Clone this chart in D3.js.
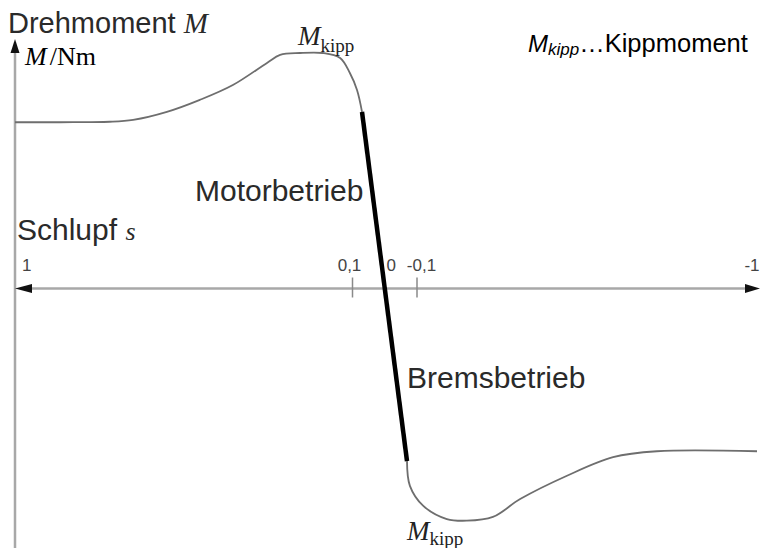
<!DOCTYPE html>
<html>
<head>
<meta charset="utf-8">
<script src="https://cdn.jsdelivr.net/npm/d3@7/dist/d3.min.js"></script>
<style>
  html, body { margin: 0; padding: 0; background: #fff; }
  svg { display: block; }
  .sans { font-family: "Liberation Sans", Arial, sans-serif; }
  .serif { font-family: "Liberation Serif", "Times New Roman", serif; }
</style>
</head>
<body>
<svg id="chart" width="760" height="548"></svg>
<script>
// Slip values (s) and torque in % of breakdown torque (M / M_kipp)
const upperSlip   = [1.0, 0.88, 0.747, 0.685, 0.595, 0.507, 0.419, 0.328, 0.293, 0.24, 0.179, 0.133, 0.107, 0.086, 0.0705];
const upperTorque = [70.6, 70.6, 70.8, 71.6, 75.0, 80.1, 86.4, 95.8, 99.2, 100, 100, 97.9, 91.5, 84.3, 75.0];

// Linear (stable) operating region around s = 0
const linearSlip   = [0.0705, -0.069];
const linearTorque = [75.0, -73.3];

const lowerSlip   = [-0.069, -0.078, -0.116, -0.179, -0.232, -0.301, -0.373, -0.497, -0.619, -0.735, -1.0];
const lowerTorque = [-73.3, -83.8, -92.2, -97.9, -98.6, -97.0, -89.4, -79.5, -71.6, -69.1, -69.1];

// Slip axis ticks and labels
const tickSlips  = [0.1, -0.1];
const labelSlips = [1, 0.1, 0, -0.1, -1];
const labelTexts = ["1", "0,1", "0", "-0,1", "-1"];

const svg = d3.select("#chart");

// Slip axis is stretched around s = 0 (piecewise linear)
const x = d3.scaleLinear()
  .domain([1, 0.1, -0.1, -1])
  .range([15, 352.5, 417, 757]);

const y = d3.scaleLinear()
  .domain([0, 100])
  .range([288.5, 53]);

const axisColor = "#a8a8a8";
const y0 = y(0);
const xAxisPos = x(1);

// Vertical torque axis
svg.append("line")
  .attr("x1", xAxisPos).attr("x2", xAxisPos)
  .attr("y1", 52).attr("y2", 548)
  .attr("stroke", axisColor).attr("stroke-width", 2.5);
svg.append("path")
  .attr("d", `M${xAxisPos},39 L${xAxisPos - 4.5},53 L${xAxisPos + 4.5},53 Z`)
  .attr("fill", "#111");

// Horizontal slip axis with arrows at both ends
svg.append("line")
  .attr("x1", 30).attr("x2", 748)
  .attr("y1", y0).attr("y2", y0)
  .attr("stroke", axisColor).attr("stroke-width", 2.5);
svg.append("path")
  .attr("d", `M15,${y0} L32,${y0 - 4.5} L32,${y0 + 4.5} Z`)
  .attr("fill", "#111");
svg.append("path")
  .attr("d", `M760,${y0} L745,${y0 - 4.5} L745,${y0 + 4.5} Z`)
  .attr("fill", "#111");

// Tick marks crossing the axis
svg.selectAll("line.tick")
  .data(tickSlips)
  .enter().append("line")
  .attr("class", "tick")
  .attr("x1", d => x(d)).attr("x2", d => x(d))
  .attr("y1", y0 - 11).attr("y2", y0 + 9)
  .attr("stroke", "#8a8a8a").attr("stroke-width", 1.5);

// Tick labels above the axis
const labelDx = { "1": 7, "0,1": -3, "0": 6.5, "-0,1": 4.5, "-1": 2.5 };
const labelAnchor = { "1": "start", "0,1": "middle", "0": "middle", "-0,1": "middle", "-1": "end" };
svg.selectAll("text.ticklabel")
  .data(labelSlips.map((s, i) => ({ s, t: labelTexts[i] })))
  .enter().append("text")
  .attr("class", "ticklabel sans")
  .attr("x", d => x(d.s) + labelDx[d.t])
  .attr("y", 271)
  .attr("text-anchor", d => labelAnchor[d.t])
  .attr("font-size", 17)
  .attr("fill", "#444")
  .text(d => d.t);

// Torque-slip characteristic
const line = d3.line()
  .x(d => x(d[0]))
  .y(d => y(d[1]))
  .curve(d3.curveCatmullRom.alpha(0.5));

const zip = (a, b) => a.map((v, i) => [v, b[i]]);

svg.append("path")
  .datum(zip(upperSlip, upperTorque))
  .attr("d", line)
  .attr("fill", "none")
  .attr("stroke", "#6e6e6e")
  .attr("stroke-width", 1.8);

svg.append("path")
  .datum(zip(lowerSlip, lowerTorque))
  .attr("d", line)
  .attr("fill", "none")
  .attr("stroke", "#6e6e6e")
  .attr("stroke-width", 1.8);

svg.append("path")
  .datum(zip(linearSlip, linearTorque))
  .attr("d", d3.line().x(d => x(d[0])).y(d => y(d[1])))
  .attr("fill", "none")
  .attr("stroke", "#000")
  .attr("stroke-width", 4.5);

// Axis titles
const t1 = svg.append("text").attr("class", "sans")
  .attr("x", 8).attr("y", 33).attr("font-size", 29).attr("fill", "#2a2a2a");
t1.append("tspan").text("Drehmoment ");
t1.append("tspan").attr("class", "serif").attr("font-style", "italic").text("M");

const t2 = svg.append("text").attr("class", "serif")
  .attr("x", 25).attr("y", 65).attr("font-size", 26).attr("fill", "#000");
t2.append("tspan").attr("font-style", "italic").text("M");
t2.append("tspan").attr("dx", 3).text("/Nm");

const t3 = svg.append("text").attr("class", "sans")
  .attr("x", 17).attr("y", 240).attr("font-size", 30).attr("fill", "#2a2a2a");
t3.append("tspan").text("Schlupf ");
t3.append("tspan").attr("class", "serif").attr("font-style", "italic").attr("font-size", 26).text("s");

// Operating region labels
svg.append("text").attr("class", "sans")
  .attr("x", 195).attr("y", 201).attr("font-size", 30).attr("fill", "#2a2a2a")
  .text("Motorbetrieb");
svg.append("text").attr("class", "sans")
  .attr("x", 407).attr("y", 388).attr("font-size", 30).attr("fill", "#2a2a2a")
  .text("Bremsbetrieb");

// Breakdown torque markers
function kippLabel(px, py, sub) {
  const g = svg.append("text").attr("class", "serif").attr("x", px).attr("y", py).attr("fill", "#222");
  g.append("tspan").attr("font-style", "italic").attr("font-size", 27).text("M");
  g.append("tspan").attr("font-size", 19).attr("dy", sub).text("kipp");
}
kippLabel(298, 45, 7);
kippLabel(407, 540, 5);

// Legend
const lg = svg.append("text").attr("class", "sans").attr("x", 528).attr("y", 52).attr("fill", "#000");
lg.append("tspan").attr("font-style", "italic").attr("font-size", 24).text("M");
lg.append("tspan").attr("font-style", "italic").attr("font-size", 17).attr("dy", 3).text("kipp");
lg.append("tspan").attr("font-size", 25.5).attr("dy", -3).text("…Kippmoment");
</script>
</body>
</html>
